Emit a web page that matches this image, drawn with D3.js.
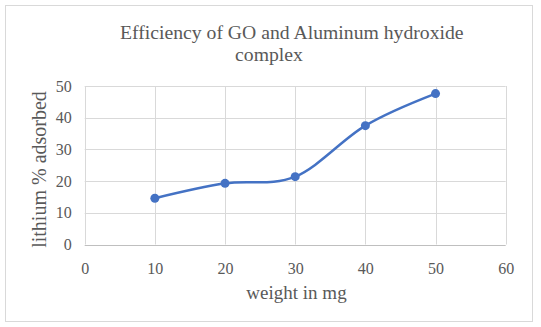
<!DOCTYPE html>
<html><head><meta charset="utf-8">
<script src="https://cdn.jsdelivr.net/npm/d3@7"></script>
<style>html,body{margin:0;padding:0;background:#fff;}svg{display:block;}</style>
</head><body>
<svg id="c" width="541" height="327"></svg>
<script>
const weights = [10, 20, 30, 40, 50];
const adsorbed = [14.6, 19.3, 21.4, 37.5, 47.6];
const xTicks = [0, 10, 20, 30, 40, 50, 60];
const yTicks = [0, 10, 20, 30, 40, 50];
const titleLines = ["Efficiency of GO and Aluminum hydroxide", "complex"];
const xTitle = "weight in mg";
const yTitle = "lithium % adsorbed";

const svg = d3.select("#c");
const serif = "'Liberation Serif','Times New Roman',serif";
const gray = "#595959";

svg.append("rect").attr("x", 5.5).attr("y", 5.5).attr("width", 527).attr("height", 316)
  .attr("fill", "#fff").attr("stroke", "#d9d9d9").attr("stroke-width", 1);

const x = d3.scaleLinear().domain([0, 60]).range([84.7, 505.7]);
const y = d3.scaleLinear().domain([0, 50]).range([244.5, 86]);

const grid = svg.append("g");
grid.selectAll(".v").data(xTicks).join("line")
  .attr("x1", d => Math.round(x(d)) + 0.5).attr("x2", d => Math.round(x(d)) + 0.5)
  .attr("y1", y(50)).attr("y2", y(0))
  .attr("stroke", "#d9d9d9").attr("stroke-width", 1);
grid.selectAll(".h").data(yTicks).join("line")
  .attr("x1", x(0)).attr("x2", x(60))
  .attr("y1", d => Math.round(y(d)) + 0.5).attr("y2", d => Math.round(y(d)) + 0.5)
  .attr("stroke", d => d === 0 ? "#bfbfbf" : "#d9d9d9").attr("stroke-width", 1);

const xAxis = svg.append("g").attr("transform", `translate(0,${y(0)})`)
  .call(d3.axisBottom(x).tickValues(xTicks).tickSize(0).tickPadding(18));
const yAxis = svg.append("g").attr("transform", `translate(${x(0)},0)`)
  .call(d3.axisLeft(y).tickValues(yTicks).tickSize(0).tickPadding(13));
[xAxis, yAxis].forEach(a => {
  a.select(".domain").remove();
  a.selectAll("text").attr("font-family", serif).attr("font-size", 16).attr("fill", gray);
});

const line = d3.line().x((d, i) => x(weights[i])).y(d => y(d)).curve(d3.curveCatmullRom.alpha(0));
svg.append("path").datum(adsorbed).attr("d", line)
  .attr("fill", "none").attr("stroke", "#4472c4").attr("stroke-width", 2.5).attr("stroke-linecap", "round");
svg.selectAll(".pt").data(adsorbed).join("circle")
  .attr("cx", (d, i) => x(weights[i])).attr("cy", d => y(d)).attr("r", 4.5)
  .attr("fill", "#4472c4");

svg.append("text").attr("x", 120).attr("y", 38.5).text(titleLines[0])
  .attr("font-family", serif).attr("font-size", 19.7).attr("fill", gray);
svg.append("text").attr("x", 269).attr("y", 61).attr("text-anchor", "middle").text(titleLines[1])
  .attr("font-family", serif).attr("font-size", 19.7).attr("fill", gray);

svg.append("text").attr("x", 296.5).attr("y", 299).attr("text-anchor", "middle").text(xTitle)
  .attr("font-family", serif).attr("font-size", 19).attr("fill", gray);
svg.append("text").attr("transform", "translate(46,169.5) rotate(-90)").attr("text-anchor", "middle").text(yTitle)
  .attr("font-family", serif).attr("font-size", 20).attr("fill", gray);
</script>
</body></html>
